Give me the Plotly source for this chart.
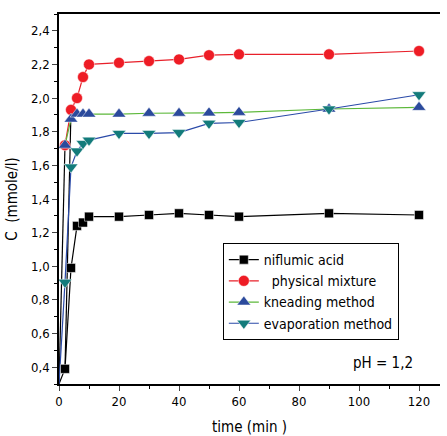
import plotly.graph_objects as go

# ---- data ----
time_min = [2, 4, 6, 8, 10, 20, 30, 40, 50, 60, 90, 120]
t0 = 0
c0 = 0.3
niflumic_acid = [0.39, 0.99, 1.24, 1.26, 1.295, 1.295, 1.305, 1.315, 1.305, 1.295, 1.315, 1.305]
physical_mixture = [1.72, 1.93, 2.00, 2.125, 2.20, 2.21, 2.22, 2.23, 2.255, 2.26, 2.26, 2.28]
kneading_method = [1.72, 1.875, 1.905, 1.905, 1.905, 1.905, 1.91, 1.91, 1.912, 1.915, 1.935, 1.945]
evaporation_method = [0.905, 1.59, 1.685, 1.73, 1.75, 1.79, 1.79, 1.795, 1.85, 1.855, 1.935, 2.02]

y_ticks = [0.4, 0.6, 0.8, 1.0, 1.2, 1.4, 1.6, 1.8, 2.0, 2.2, 2.4]
y_ticktext = ["0,4", "0,6", "0,8", "1,0", "1,2", "1,4", "1,6", "1,8", "2,0", "2,2", "2,4"]
x_ticks = [0, 20, 40, 60, 80, 100, 120]

FONT = "DejaVu Sans Condensed, Liberation Sans Narrow, Roboto, sans-serif"

fig = go.Figure()

# start-up connector segments (as drawn in the original)
fig.add_trace(go.Scatter(
    x=[t0, time_min[0], None, t0, time_min[0], None, time_min[0], time_min[1]],
    y=[c0, niflumic_acid[0], None, c0, physical_mixture[0], None, niflumic_acid[0], physical_mixture[1]],
    mode="lines", line=dict(color="black", width=1.2), showlegend=False, hoverinfo="skip"))
fig.add_trace(go.Scatter(
    x=[t0, time_min[0]], y=[c0, evaporation_method[0]],
    mode="lines", line=dict(color="#2a4aa8", width=1.2), showlegend=False, hoverinfo="skip"))

fig.add_trace(go.Scatter(
    x=time_min, y=niflumic_acid, name="niflumic acid", mode="lines+markers",
    line=dict(color="black", width=1.2),
    marker=dict(symbol="square", size=9, color="black", line=dict(color="white", width=0.5))))
fig.add_trace(go.Scatter(
    x=time_min, y=physical_mixture, name="  physical mixture", mode="lines+markers",
    line=dict(color="#e8202a", width=1.2),
    marker=dict(symbol="circle", size=11, color="#ee1c25", line=dict(color="white", width=0.5))))
fig.add_trace(go.Scatter(
    x=time_min, y=kneading_method, name="kneading method", mode="lines+markers",
    line=dict(color="#5cb83a", width=1.2),
    marker=dict(symbol="triangle-up", size=12, color="#2b4a9c", line=dict(color="white", width=0.5))))
fig.add_trace(go.Scatter(
    x=time_min, y=evaporation_method, name="evaporation method", mode="lines+markers",
    line=dict(color="#2a4aa8", width=1.2),
    marker=dict(symbol="triangle-down", size=12, color="#137b7b", line=dict(color="white", width=0.5))))

fig.add_annotation(x=0.85, y=0.057, xref="paper", yref="paper", xanchor="center", yanchor="middle",
                   text="pH = 1,2", showarrow=False, font=dict(family=FONT, size=15, color="black"))

fig.update_layout(
    width=447, height=436,
    margin=dict(l=59, r=7, t=14, b=52),
    paper_bgcolor="white", plot_bgcolor="white",
    font=dict(family=FONT, size=14, color="black"),
    showlegend=True,
    legend=dict(x=0.43, y=0.381, xanchor="left", yanchor="top",
                bgcolor="white", bordercolor="black", borderwidth=1,
                font=dict(family=FONT, size=14), tracegroupgap=0,
                itemwidth=30),
    xaxis=dict(range=[0, 127], tickvals=x_ticks, ticks="outside", ticklen=5,
               showline=True, linecolor="black", linewidth=1.5, mirror=True,
               showgrid=False, zeroline=False, automargin=False,
               minor=dict(ticks="outside", dtick=10, ticklen=3, tickcolor="black"),
               title=dict(text="time (min )", font=dict(family=FONT, size=15), standoff=14),
               tickfont=dict(family=FONT, size=13)),
    yaxis=dict(range=[0.3, 2.5], tickvals=y_ticks, ticktext=y_ticktext, ticks="outside", ticklen=5,
               showline=True, linecolor="black", linewidth=1.5,
               showgrid=False, zeroline=False, automargin=False,
               minor=dict(ticks="outside", dtick=0.1, ticklen=3, tickcolor="black"),
               title=dict(text="C  (mmole/l)", font=dict(family=FONT, size=15), standoff=10),
               tickfont=dict(family=FONT, size=13)),
)

fig.write_html("out.html")
